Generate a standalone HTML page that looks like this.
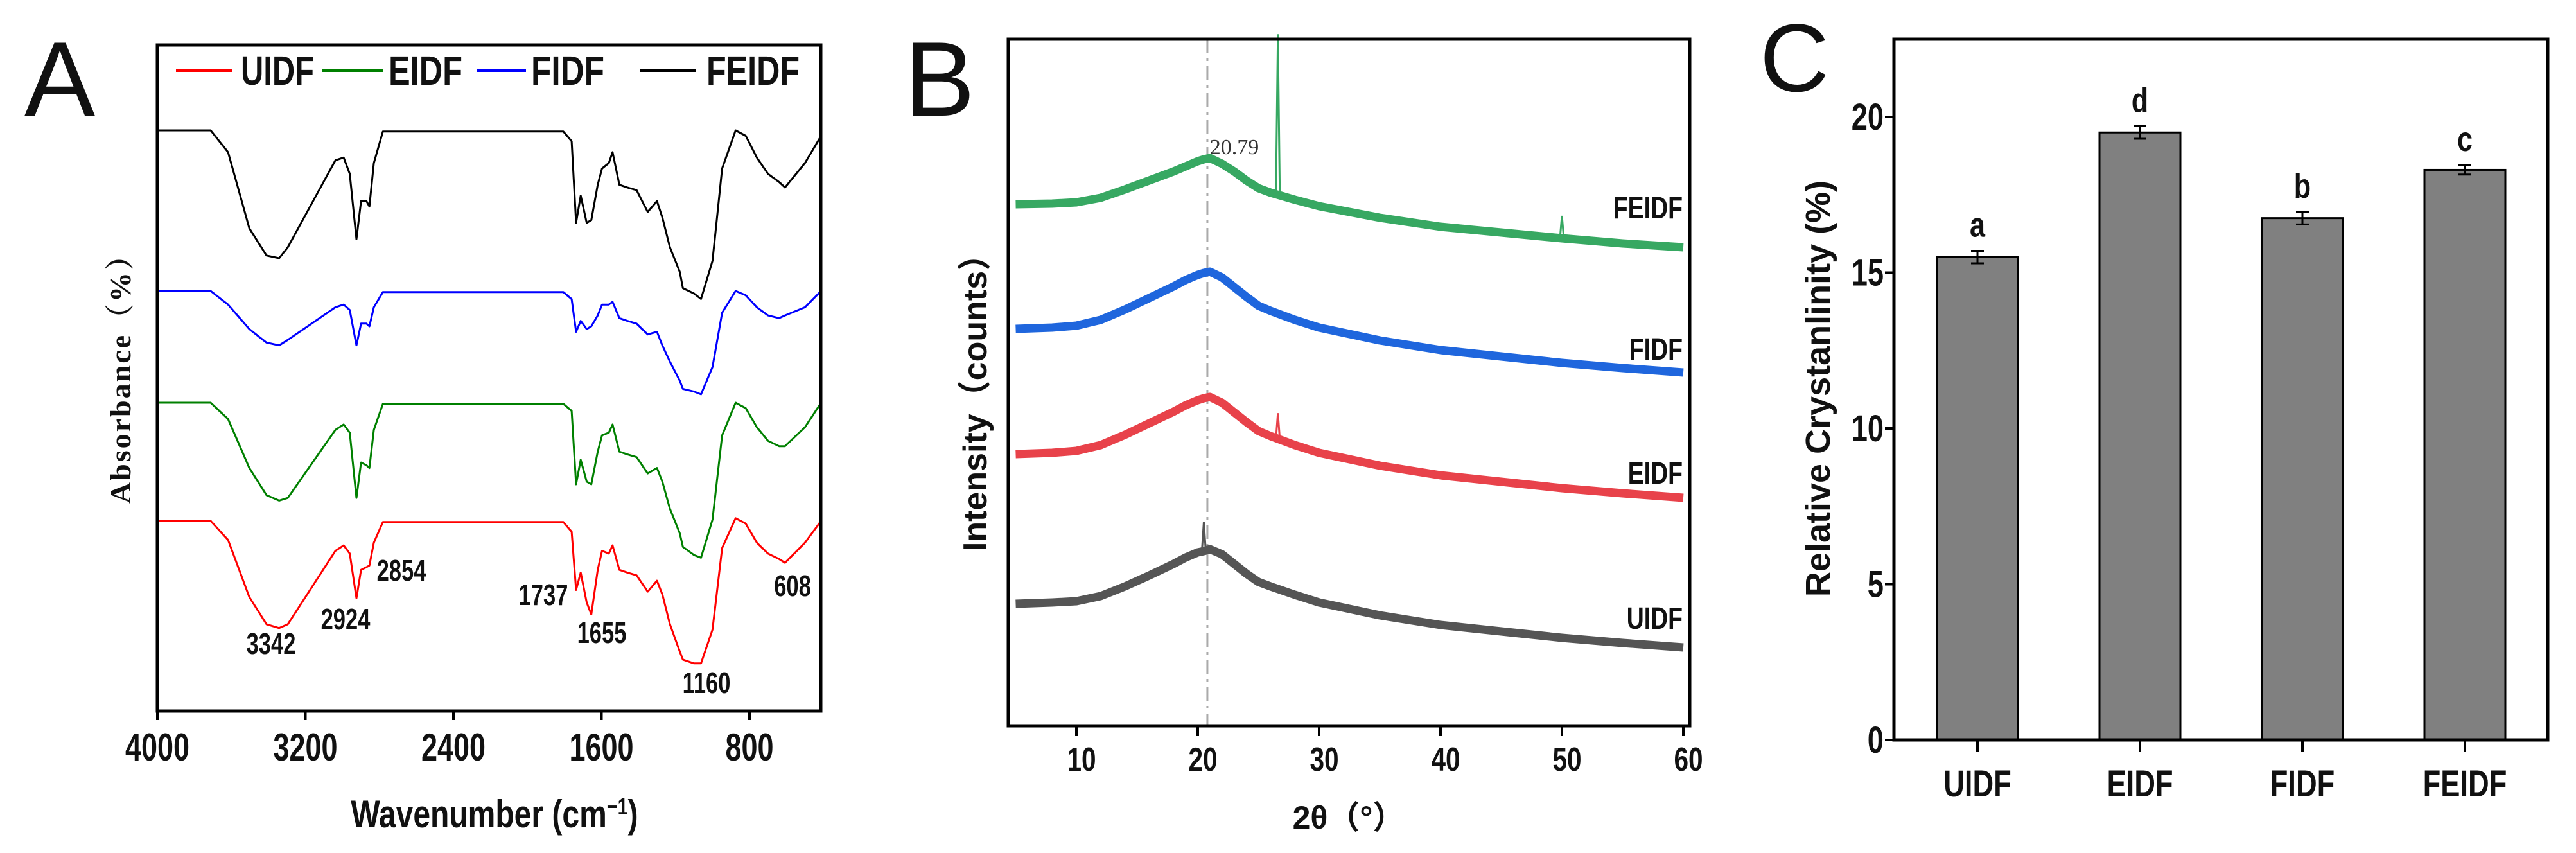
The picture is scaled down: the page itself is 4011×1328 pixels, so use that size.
<!DOCTYPE html>
<html><head><meta charset="utf-8"><style>
html,body{margin:0;padding:0;background:#fff;}
svg{display:block;}
text{font-family:"Liberation Sans Narrow","Liberation Sans",sans-serif;font-weight:bold;fill:#111;}
</style></head><body>
<svg id="fig" width="4011" height="1328" viewBox="0 0 4011 1328" xmlns="http://www.w3.org/2000/svg">
<g id="pa"></g>
<g id="pb"></g>
<g id="pc"></g>
</svg>
<script>
// ---------- Panel A data ----------
const irWavenumbers=[4000,3712,3618,3503,3410,3342,3295,3038,2993,2960,2924,2899,2870,2854,2830,2781,1806,1761,1737,1712,1680,1655,1620,1597,1560,1540,1503,1460,1410,1350,1300,1271,1230,1177,1160,1100,1062,1000,948,875,820,760,700,640,608,500,413];
const irFEIDF=[0,0,40,180,230,235,215,55,50,80,200,130,130,140,60,2,2,20,170,120,170,165,100,70,60,40,100,105,110,150,130,160,215,260,290,300,310,240,70,0,10,50,80,95,105,60,10];
const irFIDF=[0,0,25,70,95,100,90,30,25,35,100,60,60,65,30,2,2,15,75,55,70,65,45,25,25,20,50,55,60,80,75,100,130,165,180,185,190,140,40,0,8,30,45,50,45,30,0];
const irEIDF=[0,0,30,120,170,180,175,50,40,55,175,110,115,120,50,2,2,15,150,105,145,150,90,60,55,40,90,95,100,130,120,145,195,240,265,280,285,215,60,0,10,45,70,80,80,45,0];
const irUIDF=[0,0,35,140,190,197,190,55,45,60,142,90,85,82,40,2,2,20,127,95,150,172,90,55,60,45,90,95,100,130,110,135,190,240,255,262,262,200,50,-5,5,40,60,70,77,40,0];
const irTicks=[4000,3200,2400,1600,800];
const irPeakLabels=["3342","2924","2854","1737","1655","1160","608"];
// ---------- Panel B data ----------
const xrdTheta=[5,8,10,12,14,16,18,19,20,20.5,21,22,23,24,25,26,28,30,35,40,45,50,55,60];
const xrdUIDF=[68,70,72,80,95,112,130,140,148,150,153,145,130,115,102,95,82,70,50,35,25,15,7,0];
const xrdEIDF=[68,70,73,82,98,116,134,144,152,155,157,148,133,118,104,96,82,70,50,35,25,15,7,0];
const xrdFIDF=[68,70,73,82,98,116,134,144,152,155,157,148,133,118,104,96,82,70,50,35,25,15,7,0];
const xrdFEIDF=[67,68,70,77,90,104,118,126,134,137,139,130,118,104,92,85,74,64,46,32,23,14,6,0];
const xrdTicks=[10,20,30,40,50,60];
// ---------- Panel C data ----------
const crCategories=["UIDF","EIDF","FIDF","FEIDF"];
const crValues=[15.5,19.5,16.75,18.3];
const crErrors=[0.2,0.2,0.2,0.15];
const crLetters=["a","d","b","c"];
const crTicks=[0,5,10,15,20];

const NS="http://www.w3.org/2000/svg";
const narrowList=[];
function mk(parent,tag,attrs,txt){const e=document.createElementNS(NS,tag);for(const k in attrs)e.setAttribute(k,attrs[k]);if(txt!==undefined)e.textContent=txt;parent.appendChild(e);return e;}
function narrow(e,f){narrowList.push([e,f||0.8]);return e;}

// ===== Panel A =====
(function(){
const g=document.getElementById('pa');
const L=245,R=1278,T=70,B=1107;
const xA=w=>L+(4000-w)*(1167-245)/3200;
const dS=1/1.181;
let t=mk(g,'text',{x:38,y:180,'font-size':165,style:'font-family:"Liberation Sans",sans-serif;font-weight:normal'},'A');

const series=[["FEIDF",irFEIDF,203,"#000"],["FIDF",irFIDF,453,"#0000ff"],["EIDF",irEIDF,627,"#008000"],["UIDF",irUIDF,811,"#ff0000"]];
series.forEach(s=>{
 const d=irWavenumbers.map((w,i)=>(i?'L':'M')+xA(w).toFixed(1)+','+(s[2]+s[1][i]*dS).toFixed(1)).join('');
 const p=mk(g,'path',{d:d,fill:'none',stroke:s[3],'stroke-width':3,'stroke-linejoin':'round'});
 
 
});
const fr=mk(g,'rect',{x:L,y:T,width:R-L,height:B-T,fill:'none',stroke:'#000','stroke-width':5});

irTicks.forEach(v=>{
 const x=xA(v);
 const tk=mk(g,'line',{x1:x,y1:B,x2:x,y2:B+14,stroke:'#000','stroke-width':4});
 
 const tl=narrow(mk(g,'text',{x:x,y:1184,'font-size':60,'text-anchor':'middle'},String(v)),0.75);
 
});
const xt=mk(g,'text',{x:770,y:1288,'font-size':60,'text-anchor':'middle'});
xt.innerHTML='Wavenumber (cm<tspan baseline-shift="super" font-size="36">−1</tspan>)';
narrow(xt,0.8);

const yt=mk(g,'text',{x:0,y:0,'font-size':46,'text-anchor':'middle',transform:'translate(203,578) rotate(-90)',style:'font-family:"Liberation Serif","Noto Serif CJK SC",serif;font-weight:bold;letter-spacing:3px'},'Absorbance（%）');

const lpos=[[274,361,375],[502,596,605],[743,819,827],[997,1084,1100]];
const lw=[114,115,114,145];
const lnames=["UIDF","EIDF","FIDF","FEIDF"],lcols=["#ff0000","#008000","#0000ff","#000"];
lpos.forEach((p,i)=>{
 const ln=mk(g,'line',{x1:p[0],y1:110,x2:p[1],y2:110,stroke:lcols[i],'stroke-width':4});
 
 const lt=mk(g,'text',{x:p[2],y:132,'font-size':64,textLength:lw[i],lengthAdjust:'spacingAndGlyphs'},lnames[i]);
 
});
const lblPos=[[422,1018],[538,980],[625,904],[846,942],[937,1001],[1100,1079],[1234,928]];
irPeakLabels.forEach((s,i)=>{
 const pl=narrow(mk(g,'text',{x:lblPos[i][0],y:lblPos[i][1],'font-size':46,'text-anchor':'middle'},s),0.75);
 
});
})();

// ===== Panel B =====
(function(){
const g=document.getElementById('pb');
const L=1570,R=2631,T=61,B=1130;
const xB=v=>1676+(v-10)*18.9;
let t=mk(g,'text',{x:1408,y:180,'font-size':165,style:'font-family:"Liberation Sans",sans-serif;font-weight:normal'},'B');

const dl=mk(g,'line',{x1:xB(20.79),y1:T,x2:xB(20.79),y2:B,stroke:'#aaa','stroke-width':3,'stroke-dasharray':'22,8,4,8'});

const series=[["FEIDF",xrdFEIDF,385,"#37a862",[[26.6,250],[50,35]]],["FIDF",xrdFIDF,580,"#1f66dd",[]],["EIDF",xrdEIDF,775,"#e8424a",[[26.6,40]]],["UIDF",xrdUIDF,1008,"#555",[[20.5,45]]]];
series.forEach(s=>{
 const d=xrdTheta.map((v,i)=>(i?'L':'M')+xB(v).toFixed(1)+','+(s[2]-s[1][i]).toFixed(1)).join('');
 const band=mk(g,'path',{d:d,fill:'none',stroke:s[3],'stroke-width':13,'stroke-linejoin':'round'});
 
 s[4].forEach(sp=>{
   let i=xrdTheta.findIndex(v=>v>sp[0]);
   const a=xrdTheta[i-1],b=xrdTheta[i],f=(sp[0]-a)/(b-a);
   const base=s[1][i-1]+(s[1][i]-s[1][i-1])*f;
   const x=xB(sp[0]);
   const spk=mk(g,'path',{d:`M${x-3},${s[2]-base}L${x},${s[2]-base-sp[1]}L${x+3},${s[2]-base}`,fill:'none',stroke:s[3],'stroke-width':3});
   
 });
});
const lab=[["FEIDF",322],["FIDF",542],["EIDF",735],["UIDF",961]];
lab.forEach(l=>{
 const e=narrow(mk(g,'text',{x:2620,y:l[1]+18,'font-size':48,'text-anchor':'end'},l[0]),0.78);
 
});
const pk=mk(g,'text',{x:1922,y:240,'font-size':34,'text-anchor':'middle',style:'font-family:"Liberation Serif",serif;font-weight:normal;fill:#333'},'20.79');

const ax=mk(g,'path',{d:`M${L},${T}H${R}V${B}H${L}Z`,fill:'none',stroke:'#000','stroke-width':5});

xrdTicks.forEach(v=>{
 const x=xB(v);
 const tk=mk(g,'line',{x1:x,y1:B,x2:x,y2:B+16,stroke:'#000','stroke-width':4});
 
 const tl=narrow(mk(g,'text',{x:x+8,y:1200,'font-size':52,'text-anchor':'middle'},String(v)),0.78);
 
});
const xt=mk(g,'text',{x:2100,y:1290,'font-size':50,'text-anchor':'middle',style:'font-family:"Liberation Sans","Noto Sans CJK SC",sans-serif;font-weight:bold'},'2θ（°）');

const yt=mk(g,'text',{x:0,y:0,'font-size':52,'text-anchor':'middle',transform:'translate(1536,614) rotate(-90)',style:'font-family:"Liberation Sans","Noto Sans CJK SC",sans-serif;font-weight:bold'},'Intensity（counts）');

})();

// ===== Panel C =====
(function(){
const g=document.getElementById('pc');
const L=2949,R=3967,T=61,B=1152;
const yC=v=>B-v*48.5;
const xC=i=>3079+i*253;
let t=mk(g,'text',{x:2740,y:142,'font-size':150,style:'font-family:"Liberation Sans",sans-serif;font-weight:normal'},'C');

crValues.forEach((v,i)=>{
 const b=mk(g,'rect',{x:xC(i)-63,y:yC(v),width:126,height:B-yC(v),fill:'#808080',stroke:'#000','stroke-width':3});
 
 const e=crErrors[i];
 const eb=mk(g,'path',{d:`M${xC(i)},${yC(v+e)}V${yC(v-e)}M${xC(i)-10},${yC(v+e)}h20M${xC(i)-10},${yC(v-e)}h20`,stroke:'#000','stroke-width':3,fill:'none'});
 
 const lt=narrow(mk(g,'text',{x:xC(i),y:yC(v+e)-22,'font-size':54,'text-anchor':'middle'},crLetters[i]),0.8);
 
 const tk=mk(g,'line',{x1:xC(i),y1:B,x2:xC(i),y2:B+18,stroke:'#000','stroke-width':4});
 
 const tl=narrow(mk(g,'text',{x:xC(i),y:1240,'font-size':58,'text-anchor':'middle'},crCategories[i]),0.78);
 
});
const ax=mk(g,'path',{d:`M${L},${B}V${T}H${R}V${B}Z`,fill:'none',stroke:'#000','stroke-width':5});

crTicks.forEach(v=>{
 const tk=mk(g,'line',{x1:L-14,y1:yC(v),x2:L,y2:yC(v),stroke:'#000','stroke-width':4});
 
 const tl=narrow(mk(g,'text',{x:L-16,y:yC(v)+20,'font-size':58,'text-anchor':'end'},String(v)),0.78);
 
});
const yt=mk(g,'text',{x:0,y:0,'font-size':54,'text-anchor':'middle',transform:'translate(2849,605) rotate(-90)',style:'font-family:"Liberation Sans",sans-serif;font-weight:bold'},'Relative Crystanlinity (%)');

})();

narrowList.forEach(([e,f])=>{
 const w=e.getComputedTextLength();
 if(w>0){e.setAttribute('textLength',(w*f).toFixed(1));e.setAttribute('lengthAdjust','spacingAndGlyphs');}
});
</script>
</body></html>
